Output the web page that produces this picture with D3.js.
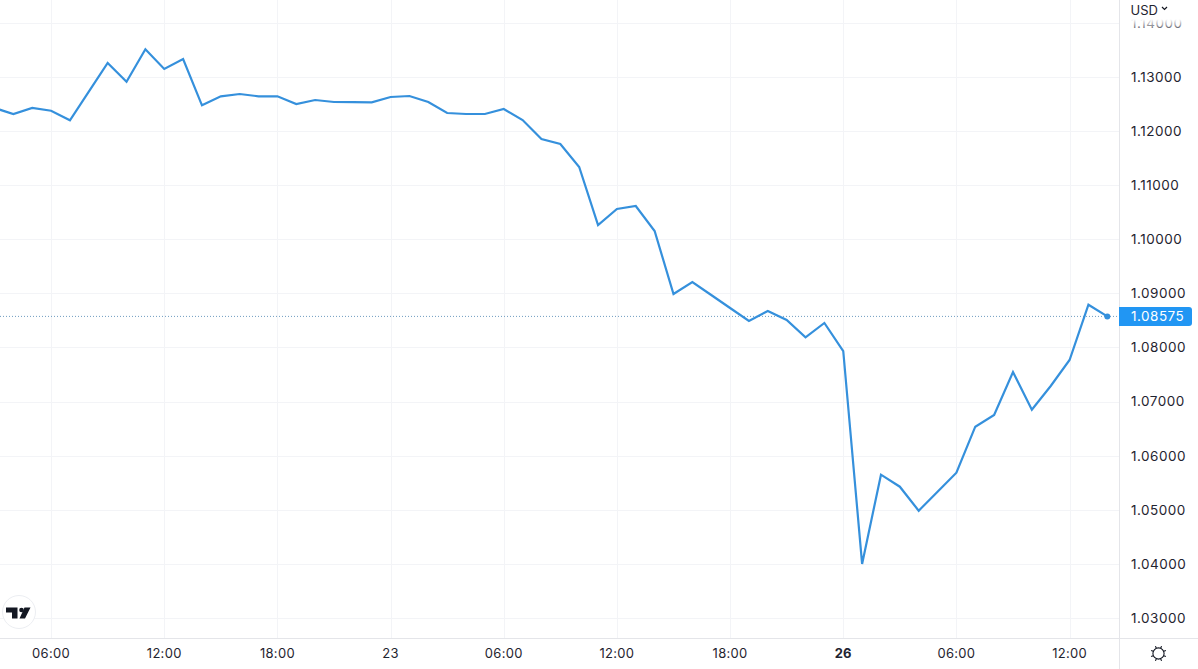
<!DOCTYPE html>
<html><head><meta charset="utf-8">
<script src="https://cdn.jsdelivr.net/npm/d3@7"></script>
<style>html,body{margin:0;padding:0;background:#fff;overflow:hidden}svg{display:block}
text{font-family:Inter,"Liberation Sans",sans-serif;fill:#1f2430}</style></head><body>
<script>
const priceTicks=[1.03,1.04,1.05,1.06,1.07,1.08,1.09,1.10,1.11,1.12,1.13,1.14];
const timeTickIndex=[3,9,15,21,27,33,39,45,51,57];
const timeTickLabels=["06:00","12:00","18:00","23","06:00","12:00","18:00","26","06:00","12:00"];
const boldLabels=["26"];
const prices=[1.12427,1.12316,1.12427,1.12377,1.12200,1.12728,1.13259,1.12913,1.13512,1.13148,
1.13333,1.12477,1.12643,1.12686,1.12643,1.12643,1.12501,1.12575,1.12538,1.12535,
1.12530,1.12630,1.12649,1.12538,1.12335,1.12316,1.12316,1.12408,1.12205,1.11854,
1.11762,1.11336,1.10264,1.10560,1.10616,1.10153,1.08989,1.09211,1.08970,1.08730,
1.08490,1.08675,1.08508,1.08189,1.08453,1.07935,1.04000,1.05649,1.05427,1.04983,
1.05335,1.05686,1.06536,1.06752,1.07547,1.06850,1.07288,1.07769,1.08791,1.08575];
const lastPrice=1.08575;
const W=1198,H=669,plotR=1119,plotB=638;
const x=d3.scaleLinear().domain([0,59]).range([-5.5,1107.3]);
const y=d3.scaleLinear().domain([1.03,1.13]).range([618,77]);
const blue="#3590dc",grid="#f3f4f7",border="#e4e5e9";
const svg=d3.select("body").append("svg").attr("width",W).attr("height",H);
svg.append("rect").attr("width",W).attr("height",H).attr("fill","#fff");
const defs=svg.append("defs");
const fade=defs.append("linearGradient").attr("id","fade").attr("x1",0).attr("x2",0).attr("y1",0).attr("y2",1);
fade.append("stop").attr("offset","0.62").attr("stop-color","#fff").attr("stop-opacity",1);
fade.append("stop").attr("offset","1").attr("stop-color","#fff").attr("stop-opacity",0.1);
const plot=svg.append("g");
plot.selectAll(".h").data(priceTicks).join("line").attr("x1",0).attr("x2",plotR)
 .attr("y1",d=>Math.round(y(d))+.5).attr("y2",d=>Math.round(y(d))+.5).attr("stroke",grid);
plot.selectAll(".v").data(timeTickIndex).join("line").attr("y1",0).attr("y2",plotB)
 .attr("x1",d=>Math.round(x(d))+.5).attr("x2",d=>Math.round(x(d))+.5).attr("stroke",grid);
plot.append("line").attr("x1",0).attr("x2",plotR).attr("y1",y(lastPrice)).attr("y2",y(lastPrice))
 .attr("stroke","#6f9cc0").attr("stroke-dasharray","1 2");
const line=d3.line().x((d,i)=>x(i)).y(d=>y(d));
plot.append("path").datum(prices).attr("d",line).attr("fill","none").attr("stroke",blue)
 .attr("stroke-width",2.2).attr("stroke-linejoin","miter");
plot.append("circle").attr("cx",x(prices.length-1)).attr("cy",y(lastPrice)).attr("r",3).attr("fill",blue);
svg.append("line").attr("x1",plotR+.5).attr("x2",plotR+.5).attr("y1",0).attr("y2",H).attr("stroke",border);
svg.append("line").attr("x1",0).attr("x2",W).attr("y1",plotB+.5).attr("y2",plotB+.5).attr("stroke",border);
svg.selectAll(".p").data(priceTicks).join("text").attr("x",1131).attr("y",d=>y(d)+4.8)
 .attr("font-size",13.5).style("letter-spacing","0.5px").text(d=>d.toFixed(5));
svg.append("rect").attr("x",plotR+1).attr("y",0).attr("width",W-plotR-1).attr("height",31).attr("fill","url(#fade)");
svg.append("text").attr("x",1130.5).attr("y",15).attr("font-size",13).text("USD");
svg.append("path").attr("d","M1162 7l2.5 2.5l2.5-2.5").attr("fill","none").attr("stroke","#131722").attr("stroke-width",1.2);
svg.append("path").attr("d","M1119 307H1189a3 3 0 0 1 3 3V323a3 3 0 0 1-3 3H1119Z").attr("fill","#2196f3");
svg.append("text").attr("x",1131).attr("y",y(lastPrice)+4.8).attr("font-size",13.5).style("fill","#fff")
 .style("letter-spacing","0.5px").text(lastPrice.toFixed(5));
svg.selectAll(".t").data(timeTickIndex).join("text").attr("x",d=>x(d)).attr("y",658)
 .attr("text-anchor","middle").attr("font-size",13).style("letter-spacing","0.3px")
 .attr("font-weight",(d,i)=>boldLabels.includes(timeTickLabels[i])?700:400)
 .text((d,i)=>timeTickLabels[i]);
svg.append("circle").attr("cx",19).attr("cy",612).attr("r",16.5).attr("fill","#fff").attr("stroke","#eceef2");
svg.append("path").attr("d","M6 607.5H17.5V618.5H12V612.5H6Z M24.5 607.5H30.5L25 618.5H19.5Z").attr("fill","#131722");
svg.append("circle").attr("cx",21.5).attr("cy",610).attr("r",2.3).attr("fill","#131722");
const sun=svg.append("g").attr("transform","translate(1158.5,653.5)").attr("fill","none").attr("stroke","#131722").attr("stroke-width",1.1);
sun.append("circle").attr("r",5.6);
d3.range(8).forEach(i=>{const a=i*Math.PI/4+Math.PI/8;
 sun.append("line").attr("x1",5.6*Math.cos(a)).attr("y1",5.6*Math.sin(a)).attr("x2",8*Math.cos(a)).attr("y2",8*Math.sin(a));});
</script></body></html>
